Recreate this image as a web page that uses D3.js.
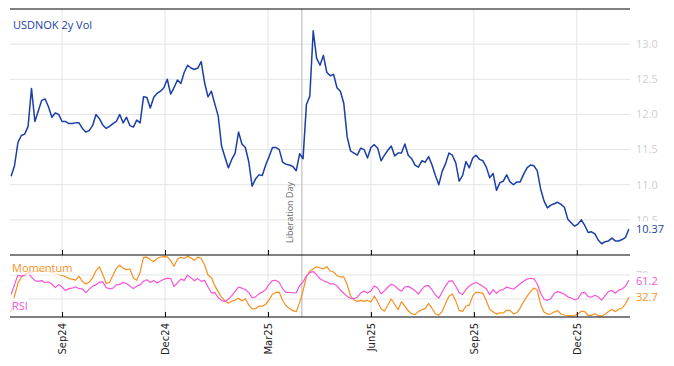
<!DOCTYPE html>
<html>
<head>
<meta charset="utf-8">
<script src="https://cdn.jsdelivr.net/npm/d3@7"></script>
<style>
  body { margin: 0; background: #fff; }
  svg { display: block; }
</style>
</head>
<body>
<div id="chart"></div>
<script>
// series sampled every 3 calendar days from the start date
const startDate = "2024-07-19";
const stepDays = 3;

const volValues = [
  11.12, 11.27, 11.6, 11.7, 11.72, 11.83, 12.37, 11.9, 12.05, 12.2,
  12.22, 12.11, 11.96, 12.02, 12.0, 11.9, 11.9, 11.87, 11.87, 11.88,
  11.88, 11.8, 11.75, 11.77, 11.84, 12.0, 11.94, 11.85, 11.8, 11.83,
  11.87, 11.9, 12.0, 11.88, 11.96, 11.84, 11.82, 11.92, 11.88, 12.25,
  12.24, 12.09, 12.24, 12.3, 12.33, 12.38, 12.5, 12.29, 12.38, 12.49,
  12.44, 12.6, 12.7, 12.66, 12.64, 12.66, 12.75, 12.45, 12.25, 12.33,
  12.15, 11.98, 11.55, 11.39, 11.24, 11.36, 11.45, 11.75, 11.58, 11.53,
  11.33, 10.98, 11.08, 11.14, 11.13, 11.28, 11.4, 11.53, 11.53, 11.5,
  11.32, 11.29, 11.28, 11.26, 11.2, 11.44, 11.37, 12.14, 12.26, 13.19,
  12.8, 12.7, 12.84, 12.6, 12.55, 12.57, 12.38, 12.33, 12.16, 11.68,
  11.48, 11.45, 11.42, 11.52, 11.5, 11.38, 11.53, 11.57, 11.52, 11.34,
  11.42, 11.49, 11.55, 11.41, 11.45, 11.45, 11.58, 11.42, 11.37, 11.28,
  11.25, 11.34, 11.32, 11.4, 11.28, 11.13, 11.0, 11.19, 11.3, 11.45,
  11.42, 11.31, 11.05, 11.13, 11.33, 11.24, 11.38, 11.42, 11.36, 11.34,
  11.25, 11.1, 11.16, 10.92, 11.03, 11.05, 11.14, 11.04, 11.0, 11.04,
  11.04, 11.15, 11.24, 11.28, 11.27, 11.2, 10.94, 10.77, 10.67, 10.71,
  10.73, 10.75, 10.72, 10.68, 10.51, 10.46, 10.41, 10.44, 10.5, 10.42,
  10.32, 10.33, 10.3, 10.21, 10.16, 10.19, 10.2, 10.24, 10.2, 10.2,
  10.22, 10.25, 10.37
];

const rsiValues = [
  38, 54, 70, 68, 69, 74, 66.5, 60.5, 59.5, 60.6,
  57.5, 58.2, 55, 49, 54, 50, 44, 47.3, 48, 50.5,
  47.2, 46.7, 40.5, 46.5, 51.5, 53.6, 58, 58.5, 49, 47,
  48, 53.6, 54.3, 57.7, 55.8, 51.5, 47.3, 51.2, 53.6, 59.5,
  62.2, 57.5, 61, 56.5, 60, 62.8, 64.7, 64, 50.8, 56.8,
  63.2, 61, 69.8, 65.2, 60.3, 64, 59.3, 61, 50, 40.3,
  40.5, 32.5, 27.3, 26, 29.5, 35.6, 42.8, 49.7, 48, 45.8,
  40.6, 32, 33.5, 38.5, 41.5, 45.5, 54.5, 60.8, 61, 57.5,
  47, 41, 41, 40, 40.5, 52.5, 58.2, 68.5, 74, 75.7,
  70.5, 63.7, 60.4, 58.6, 55.1, 55.3, 52, 45, 39.5, 34.7,
  31, 30.5, 33, 39.8, 43.5, 39.8, 43.5, 52, 48.3, 38.7,
  43.5, 50, 54.7, 52, 46.7, 43, 50, 51, 47.7, 43.9,
  38, 46, 52, 52.3, 45, 36.8, 31.4, 41.6, 52, 59.8,
  60.2, 51.3, 41, 37.5, 45.8, 51.8, 55.3, 57.4, 54.6, 50.8,
  47, 37.3, 45.7, 39.3, 44.6, 45.7, 49.8, 48, 46.3, 50.7,
  55.5, 59.5, 63.1, 64.6, 63.4, 55.4, 39.9, 29.5, 27.8, 30.5,
  39, 42.3, 40.6, 38, 33.6, 31.6, 28.6, 30.4, 39.8, 41,
  33.9, 33.2, 36.4, 33.2, 28.2, 35.6, 42.7, 44.2, 39.6, 44.7,
  46.7, 51.5, 61.2
];

const momValues = [
  8, 35, 56, 66.5, 71.8, 73.5, 74.8, 76, 77.3, 77.6,
  76.8, 75.9, 74.7, 72.8, 70.8, 69.2, 67.4, 64, 63, 61.5,
  68, 59, 55, 58, 65, 77, 83.7, 71, 55.8, 57.5,
  69.5, 81, 86.3, 81, 79, 80, 65.5, 61, 74.5, 99.5,
  99.8, 95.5, 92.5, 97.5, 100, 100.5, 100.2, 94, 84.5, 96.2,
  99.5, 97.5, 101.4, 98.2, 94.5, 99.8, 97.5, 86.7, 70, 65.5,
  52.2, 42.3, 33, 26.6, 23.1, 26.2, 28, 31.3, 26.8, 30.4,
  20, 13.5, 13.8, 18.2, 18, 21, 28.5, 38, 40.9, 41.3,
  27.5, 18.8, 14, 10.6, 9, 24, 43.5, 67, 76.4, 80,
  83.6, 82, 80, 84, 76.6, 75, 68.8, 67, 66.7, 54,
  35.4, 28.4, 26.1, 27.8, 26, 27.6, 25.1, 35.1, 25, 13.8,
  9.9, 19.9, 30, 21.2, 12, 25.5, 18.2, 10.3, 5.4, 3.9,
  9.4, 12, 13.9, 22.8, 14.5, 5.5, 3, 9.4, 22.6, 34.4,
  38.5, 26.8, 11, 9.4, 18.3, 19.8, 35.3, 41.5, 40.5, 39.3,
  27, 12.6, 8.6, 4.8, 6.8, 6.7, 11.2, 11, 5.3, 7,
  15.3, 25.7, 34.5, 42.3, 48.3, 45, 21, 8.5, 4.8, 5,
  8.3, 10.6, 5, 3.3, 2.5, 1.8, 2.4, 5, 9.6, 8.8,
  2.8, 2.8, 5.5, 2.2, 1.7, 4.5, 9.3, 12.4, 9, 12.9,
  14.9, 22, 32.7
];

const tickDates = ["2024-09-02", "2024-12-02", "2025-03-03", "2025-06-02", "2025-09-01", "2025-12-01"];
const tickLabels = ["Sep24", "Dec24", "Mar25", "Jun25", "Sep25", "Dec25"];
const volTicks = [10.5, 11.0, 11.5, 12.0, 12.5, 13.0];
const oscTicks = [30, 70];
const eventDate = "2025-04-02";
const eventLabel = "Liberation Day";
const xDomain = ["2024-07-18", "2026-01-17"];

document.addEventListener("DOMContentLoaded", function () {
  const width = 674, height = 366;
  const left = 10, right = 630;
  const mainTop = 9, mainBottom = 255, lowBottom = 317;

  const blue = "#1a3fa6", orange = "#f7901e", pink = "#f655d8";
  const grid = "#e4e4e4";
  const font = "'Open Sans', sans-serif";

  const parse = d3.utcParse("%Y-%m-%d");
  const start = parse(startDate);
  const dateAt = i => d3.utcDay.offset(start, i * stepDays);

  const vol = volValues.map((v, i) => ({ date: dateAt(i), value: v }));
  const rsi = rsiValues.map((v, i) => ({ date: dateAt(i), value: v }));
  const mom = momValues.map((v, i) => ({ date: dateAt(i), value: v }));
  const ticks = tickDates.map(parse);

  const svg = d3.select("#chart").append("svg")
    .attr("width", width)
    .attr("height", height);

  const x = d3.scaleUtc().domain(xDomain.map(parse)).range([left, right]);
  const yMain = d3.scaleLinear().domain([10.0, 13.5]).range([mainBottom, mainTop]);
  const yLow = d3.scaleLinear().domain([0, 103.3]).range([lowBottom, mainBottom]);

  // clip paths
  const defs = svg.append("defs");
  defs.append("clipPath").attr("id", "clipMain").append("rect")
    .attr("x", left).attr("y", mainTop).attr("width", right - left).attr("height", mainBottom - mainTop);
  defs.append("clipPath").attr("id", "clipLow").append("rect")
    .attr("x", left).attr("y", mainBottom).attr("width", right - left).attr("height", lowBottom - mainBottom);

  // vertical gridlines in both panels
  svg.append("g")
    .selectAll("line")
    .data(ticks)
    .join("line")
    .attr("x1", d => x(d)).attr("x2", d => x(d))
    .attr("y1", mainTop).attr("y2", lowBottom)
    .attr("stroke", grid);

  // horizontal gridlines
  svg.append("g")
    .selectAll("line")
    .data(volTicks)
    .join("line")
    .attr("x1", left).attr("x2", right)
    .attr("y1", d => yMain(d)).attr("y2", d => yMain(d))
    .attr("stroke", grid);
  svg.append("g")
    .selectAll("line")
    .data(oscTicks)
    .join("line")
    .attr("x1", left).attr("x2", right)
    .attr("y1", d => yLow(d)).attr("y2", d => yLow(d))
    .attr("stroke", grid);

  // right axis labels
  svg.append("g")
    .selectAll("text")
    .data(volTicks)
    .join("text")
    .attr("x", 636).attr("y", d => yMain(d))
    .attr("dy", "0.35em")
    .text(d => d3.format(".1f")(d))
    .style("font-family", font).style("font-size", "11px").style("fill", "#cfcfcf");
  svg.append("g")
    .selectAll("text")
    .data(oscTicks)
    .join("text")
    .attr("x", 636).attr("y", d => yLow(d))
    .attr("dy", "0.35em")
    .text(d => d)
    .style("font-family", font).style("font-size", "11px").style("fill", "#cfcfcf");

  // event line
  const ex = x(parse(eventDate));
  svg.append("line")
    .attr("x1", ex).attr("x2", ex)
    .attr("y1", mainTop).attr("y2", lowBottom)
    .attr("stroke", "#b4b4b4").attr("stroke-width", 1);
  svg.append("text")
    .attr("transform", `translate(${ex - 9},243) rotate(-90)`)
    .text(eventLabel)
    .style("font-family", font).style("font-size", "9px").style("fill", "#666");

  // series lines
  const lineMain = d3.line().x(d => x(d.date)).y(d => yMain(d.value));
  const lineLow = d3.line().x(d => x(d.date)).y(d => yLow(d.value));

  svg.append("path")
    .datum(vol)
    .attr("clip-path", "url(#clipMain)")
    .attr("d", lineMain)
    .attr("fill", "none").attr("stroke", blue).attr("stroke-width", 1.5)
    .attr("stroke-linejoin", "round");

  const low = svg.append("g").attr("clip-path", "url(#clipLow)");
  low.append("path")
    .datum(mom)
    .attr("d", lineLow)
    .attr("fill", "none").attr("stroke", orange).attr("stroke-width", 1.2)
    .attr("stroke-linejoin", "round");
  low.append("path")
    .datum(rsi)
    .attr("d", lineLow)
    .attr("fill", "none").attr("stroke", pink).attr("stroke-width", 1.2)
    .attr("stroke-linejoin", "round");

  // panel frame lines and ticks
  svg.append("line")
    .attr("x1", left).attr("x2", right).attr("y1", mainTop).attr("y2", mainTop)
    .attr("stroke", "#000");
  const axisTop = svg.append("g")
    .attr("transform", `translate(0,${mainBottom})`)
    .call(d3.axisBottom(x).tickValues(ticks).tickSize(-5).tickFormat(""));
  const axisBot = svg.append("g")
    .attr("transform", `translate(0,${lowBottom})`)
    .call(d3.axisBottom(x).tickValues(ticks).tickSize(-5).tickFormat((d, i) => tickLabels[i]));
  [axisTop, axisBot].forEach(g => {
    g.select(".domain").attr("d", `M${left},0H${right}`).attr("stroke", "#000");
    g.selectAll(".tick line").attr("stroke", "#000");
  });
  axisBot.selectAll(".tick text")
    .attr("transform", "rotate(-90)")
    .attr("text-anchor", "end")
    .attr("x", -6).attr("y", 0).attr("dy", "0.35em")
    .style("font-family", "'DejaVu Sans', sans-serif")
    .style("font-size", "10px").style("fill", "#222");

  // series labels with translucent backgrounds
  function tag(txt, tx, ty, color, bg) {
    const g = svg.append("g");
    const t = g.append("text")
      .attr("x", tx).attr("y", ty).attr("dy", "0.35em")
      .text(txt)
      .style("font-family", font).style("font-size", "11px").style("fill", color);
    const b = t.node().getBBox();
    g.insert("rect", "text")
      .attr("x", b.x - 1).attr("y", b.y).attr("width", b.width + 2).attr("height", b.height)
      .attr("fill", "#fff").attr("fill-opacity", bg);
  }
  tag("USDNOK 2y Vol", 13, 25, blue, 0);
  tag("Momentum", 12, 268, orange, 0.75);
  tag("RSI", 12, 306, pink, 0.75);

  // last-value labels
  tag(d3.format(".2f")(volValues[volValues.length - 1]), 636, yMain(volValues[volValues.length - 1]) + 0.5, blue, 1);
  tag(d3.format(".1f")(rsiValues[rsiValues.length - 1]), 636, 281, pink, 1);
  tag(d3.format(".1f")(momValues[momValues.length - 1]), 636, 297, orange, 1);
});
</script>
</body>
</html>
